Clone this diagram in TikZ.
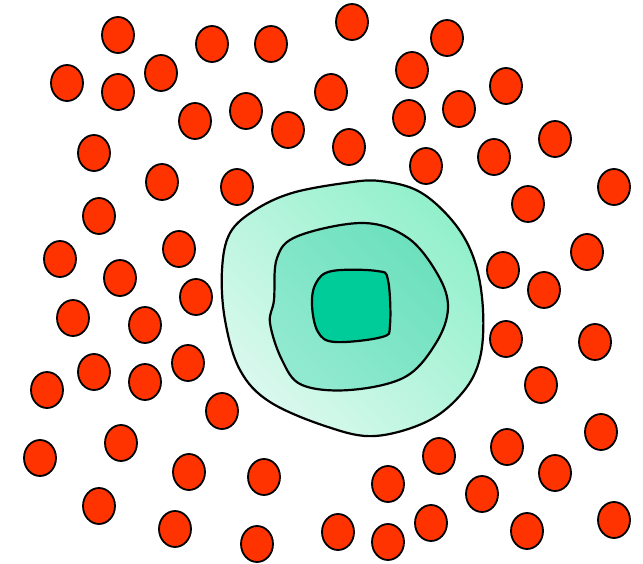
\documentclass[tikz,border=0pt]{standalone}
\usepackage{tikz}
\usetikzlibrary{shapes.geometric}

\definecolor{cellred}{RGB}{255,51,0}
\definecolor{coregreen}{RGB}{0,204,153}
\definecolor{midlight}{RGB}{145,234,208}
\definecolor{middark}{RGB}{108,224,188}
\definecolor{outlight}{RGB}{218,249,238}
\definecolor{outdark}{RGB}{146,240,203}

\begin{document}
\begin{tikzpicture}[x=1pt, y=-1pt,
    redcell/.style={draw, ellipse, fill=cellred, line width=1.8pt, minimum width=32pt, minimum height=36pt, inner sep=0pt},
    zone/.style={draw, line width=2.2pt}]
	\useasboundingbox (0,0) rectangle (643,564);
	% zones around the centre
	\path[zone, left color=outlight, right color=outdark, shading angle=135] plot[smooth cycle, tension=0.6] coordinates {(292,193) (345,183) (380,181) (420,192) (455,224) (475,262) (483,310) (480,358) (463,392) (428,421) (375,436) (328,427) (270,402) (240,370) (225,320) (222,270) (230,233) (255,210)};
	\path[zone, left color=midlight, right color=middark, shading angle=135] plot[smooth cycle, tension=0.6] coordinates {(363,223) (408,238) (438,275) (448,308) (436,343) (405,377) (350,390) (302,385) (282,360) (270,323) (274,300) (277,258) (298,236)};
	\path[zone, fill=coregreen] plot[smooth cycle, tension=0.6] coordinates {(332,271) (377,271) (388,280) (390,325) (382,337) (335,342) (318,332) (312,305) (316,283)};
	% red cells
	\foreach \p [count=\i] in {(118,35),(212,44),(271,44),(352,22),(447,38),
		(67,83),(118,92),(161,73),(331,92),(412,70),(506,86),
		(195,121),(246,111),(288,130),(409,118),(459,109),
		(94,153),(349,147),(426,166),(494,157),(555,139),
		(162,182),(237,187),(614,187),(528,204),
		(99,216),(179,249),(60,259),(120,278),(587,252),(503,270),(544,290),
		(196,297),(73,318),(145,325),(506,339),(595,342),
		(94,372),(145,382),(188,363),(47,390),(541,385),
		(222,411),(601,432),(507,447),
		(121,443),(40,458),(439,456),(555,473),
		(189,472),(264,477),(388,484),(482,494),
		(99,506),(614,520),(431,523),(527,531),
		(175,529),(257,544),(338,532),(388,542)}
		\node (cell-\i) [redcell] at \p {};
\end{tikzpicture}
\end{document}
